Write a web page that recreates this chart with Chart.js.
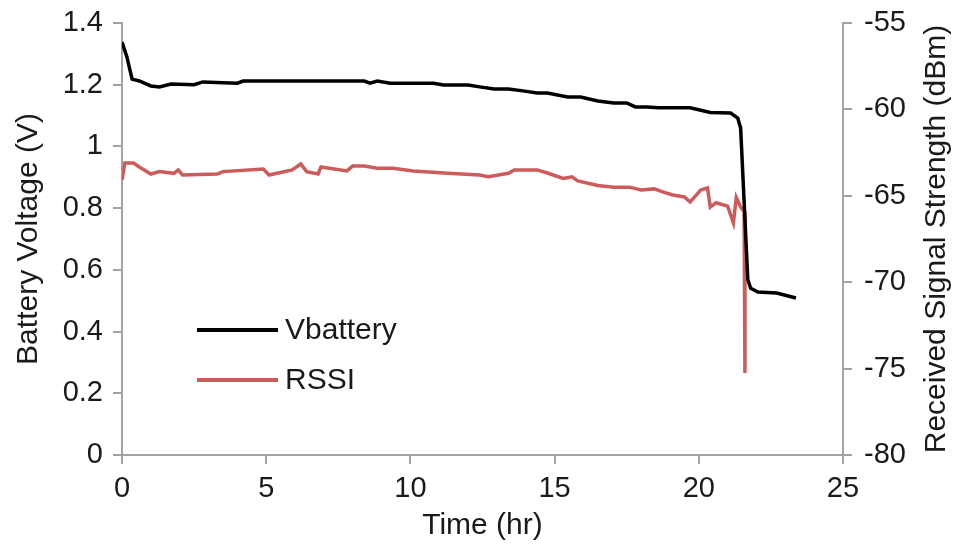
<!DOCTYPE html>
<html>
<head>
<meta charset="utf-8">
<script src="https://cdn.jsdelivr.net/npm/chart.js@4"></script>
<style>
  html, body { margin: 0; padding: 0; background: #fff; }
  #wrap { width: 956px; height: 546px; }
</style>
</head>
<body>
<div id="wrap"><canvas id="chart" width="956" height="546"></canvas></div>
<script>
// Battery voltage (V) vs time (hr)
const timeV = [0, 0.17, 0.35, 0.6, 1.0, 1.3, 1.7, 2.5, 2.8, 4.0, 4.2, 8.4, 8.6, 8.85, 9.3, 10.8, 11.15,
  12.0, 12.4, 12.9, 13.4, 13.9, 14.4, 14.75, 15.45, 15.9, 16.5, 17.05, 17.5, 17.8, 18.2, 18.6, 19.7,
  20.4, 21.1, 21.35, 21.45, 21.7, 21.8, 22.05, 22.7, 23.37];
const vbattery = [1.338, 1.29, 1.218, 1.212, 1.196, 1.193, 1.202, 1.2, 1.209, 1.205, 1.212, 1.212, 1.205,
  1.212, 1.205, 1.205, 1.199, 1.199, 1.193, 1.186, 1.186, 1.18, 1.173, 1.173, 1.16, 1.16, 1.147, 1.141,
  1.141, 1.128, 1.128, 1.125, 1.125, 1.11, 1.108, 1.092, 1.06, 0.567, 0.54, 0.528, 0.525, 0.509];

// RSSI (dBm) vs time (hr)
const timeR = [0, 0.1, 0.4, 0.6, 1.0, 1.3, 1.8, 1.95, 2.1, 3.3, 3.5, 4.9, 5.1, 5.9, 6.2, 6.4, 6.8, 6.9,
  7.8, 8.0, 8.4, 8.85, 9.4, 10.1, 11.3, 12.4, 12.7, 13.4, 13.6, 14.4, 14.75, 15.3, 15.6, 15.8, 16.5,
  17.05, 17.6, 18.0, 18.45, 18.8, 19.1, 19.5, 19.7, 20.07, 20.3, 20.4, 20.6, 21.0, 21.2, 21.3, 21.45,
  21.57, 21.6];
const rssi = [-64.09, -63.1, -63.1, -63.33, -63.74, -63.6, -63.7, -63.5, -63.8, -63.74, -63.6, -63.45,
  -63.8, -63.5, -63.16, -63.6, -63.74, -63.33, -63.56, -63.27, -63.27, -63.4, -63.4, -63.56, -63.7,
  -63.8, -63.9, -63.7, -63.5, -63.5, -63.68, -64.0, -63.9, -64.14, -64.4, -64.5, -64.5, -64.66, -64.6,
  -64.8, -64.95, -65.07, -65.36, -64.66, -64.55, -65.65, -65.4, -65.6, -66.57, -65.1, -65.65, -65.9,
  -75.25];

const seriesNames = ["Vbattery", "RSSI"];
const seriesColors = ["#000000", "#cb5c5b"];
const rightTitle = "Received Signal Strength (dBm)";

const FONT = "'Liberation Sans', Arial, sans-serif";
const AXIS = "#a3a3a3";
const TEXT = "#1a1a1a";

// legend drawn inside the plot, lower left; right axis title reads bottom-to-top
const extras = {
  id: "extras",
  afterDraw(chart) {
    const { ctx, chartArea } = chart;
    const x0 = chartArea.left + 75;
    const rows = [chartArea.top + 307, chartArea.top + 357];
    ctx.save();
    ctx.font = "30px " + FONT;
    ctx.textBaseline = "middle";
    seriesNames.forEach((name, i) => {
      ctx.strokeStyle = seriesColors[i];
      ctx.lineWidth = 4;
      ctx.beginPath();
      ctx.moveTo(x0, rows[i]);
      ctx.lineTo(x0 + 81, rows[i]);
      ctx.stroke();
      ctx.fillStyle = TEXT;
      ctx.fillText(name, x0 + 88, rows[i] + 1);
    });

    const s = chart.scales.y2;
    ctx.translate(s.right - 19, (chartArea.top + chartArea.bottom) / 2);
    ctx.rotate(-Math.PI / 2);
    ctx.textAlign = "center";
    ctx.font = "30px " + FONT;
    ctx.fillText(rightTitle, 0, 0);
    ctx.restore();
  },
};

const tickFont = { family: FONT, size: 29 };
const titleFont = { family: FONT, size: 30 };

new Chart(document.getElementById("chart"), {
  type: "line",
  data: {
    datasets: [
      {
        label: seriesNames[0],
        data: timeV.map((t, i) => ({ x: t, y: vbattery[i] })),
        borderColor: seriesColors[0],
        borderWidth: 3.5,
        yAxisID: "y",
      },
      {
        label: seriesNames[1],
        data: timeR.map((t, i) => ({ x: t, y: rssi[i] })),
        borderColor: seriesColors[1],
        borderWidth: 3.5,
        yAxisID: "y2",
      },
    ],
  },
  options: {
    responsive: false,
    animation: false,
    events: [],
    layout: { padding: { top: 23, left: 0, right: 0, bottom: 0 } },
    elements: { point: { radius: 0 }, line: { tension: 0 } },
    plugins: { legend: { display: false }, tooltip: { enabled: false } },
    scales: {
      x: {
        type: "linear",
        min: 0,
        max: 25,
        ticks: { stepSize: 5, color: TEXT, font: tickFont, padding: 8 },
        grid: { drawOnChartArea: false, color: AXIS, lineWidth: 2, tickLength: 9 },
        border: { color: AXIS, width: 2 },
        title: { display: true, text: "Time (hr)", color: TEXT, font: titleFont, padding: { top: 0, bottom: 2 } },
        afterFit: (s) => { s.height = 91; s.paddingLeft = 0; s.paddingRight = 0; },
      },
      y: {
        position: "left",
        min: 0,
        max: 1.4,
        ticks: { stepSize: 0.2, color: TEXT, font: tickFont, padding: 10,
          callback: (v) => Number(v.toFixed(1)).toString() },
        grid: { drawOnChartArea: false, color: AXIS, lineWidth: 2, tickLength: 9 },
        border: { color: AXIS, width: 2 },
        title: { display: true, text: "Battery Voltage (V)", color: TEXT, font: titleFont, padding: { top: 11, bottom: 0 } },
        afterFit: (s) => { s.width = 122; s.paddingTop = 0; s.paddingBottom = 0; },
      },
      y2: {
        position: "right",
        min: -80,
        max: -55,
        ticks: { stepSize: 5, color: TEXT, font: tickFont, padding: 12 },
        grid: { drawOnChartArea: false, color: AXIS, lineWidth: 2, tickLength: 9 },
        border: { color: AXIS, width: 2 },
        title: { display: false },
        afterFit: (s) => { s.width = 113; s.paddingTop = 0; s.paddingBottom = 0; },
      },
    },
  },
  plugins: [extras],
});
</script>
</body>
</html>
